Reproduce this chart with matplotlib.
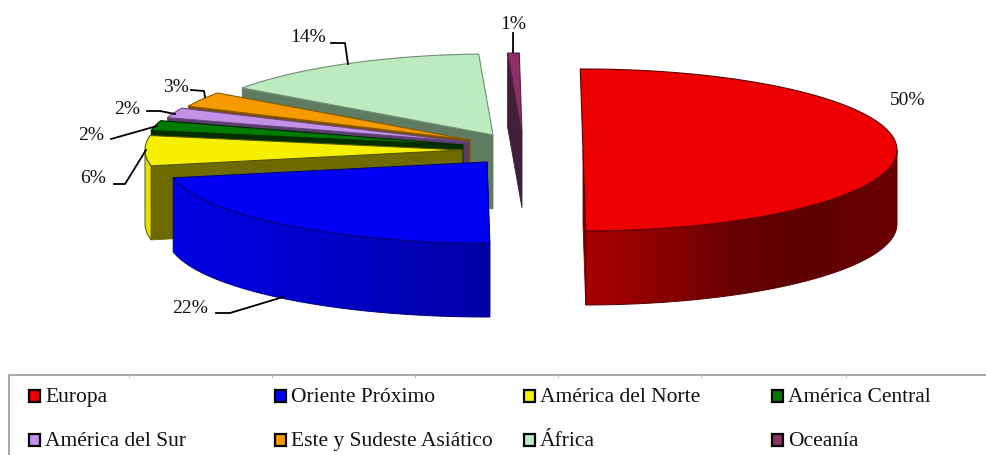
import numpy as np
import matplotlib
matplotlib.use('Agg')
import matplotlib.pyplot as plt
from matplotlib.patches import Polygon, Rectangle
from matplotlib.colors import LinearSegmentedColormap

# data
regiones = ['Europa', 'Oriente Próximo', 'América del Norte', 'América Central',
            'América del Sur', 'Este y Sudeste Asiático', 'África', 'Oceanía']
valores = [50, 22, 6, 2, 2, 3, 14.4, 0.6]

# style of each slice
top_col = ['#ee0000', '#0000f5', '#f6f000', '#007a00', '#c490e8', '#f59a00', '#bcebc0', '#8e3068']
side_col = ['#7a0000', '#00009a', '#6e6a00', '#003000', '#5a3d70', '#7a4d00', '#5f7b62', '#3f1f3a']
edge_col = ['#5a0000', '#000080', '#55550a', '#002a00', '#6a4a80', '#8a5a00', '#6f8f72', '#5a2045']
# outer wall colours, left to right
arc_cols = [['#a80000', '#8a0000', '#640000', '#600000', '#6a0000'],
            ['#0000e2', '#0000d8', '#0000c8', '#0000b4', '#0000a8'],
            ['#e6e000', '#e6e000'],
            ['#003000', '#003000'],
            ['#5a3d70', '#5a3d70'],
            ['#7a4d00', '#7a4d00'],
            ['#5f7b62', '#5f7b62'],
            ['#3f1f3a', '#3f1f3a']]

# apex of each exploded slice, in pixels, and radii
apex_x = [583, 487, 462, 463, 468, 470, 493, 522]
apex_y = [150, 162, 150, 145, 142, 140, 135, 134]
rad_x = [314, 320, 317, 317, 315, 310, 308, 310]
rad_y = 81
depth = 74
start = -0.5

# text and leader lines
lab_x = [908, 190, 93, 91, 127, 176, 308, 513]
lab_base = [105, 313, 183, 140, 114, 92, 42, 29]
leaders = [None,
           [(216, 313), (230, 313), (283, 297)],
           [(114, 184), (125, 184), (146, 150)],
           [(111, 139), (157, 126)],
           [(147, 111), (160, 111), (175, 114)],
           [(191, 90), (204, 91), (205, 97)],
           [(331, 43), (345, 43), (348, 64)],
           [(513, 33), (513, 52)]]
leg_x = [29, 275, 524, 772]
leg_y = [396, 440]

plt.rcParams['font.family'] = ['Liberation Serif', 'DejaVu Serif']

fig = plt.figure(figsize=(9.86, 4.55), dpi=100)
ax = fig.add_axes([0, 0, 1, 1])
ax.axis('off')


def arc(i, a, b, n=120):
    t = np.radians(np.linspace(a, b, n))
    return apex_x[i] + rad_x[i] * np.sin(t), apex_y[i] - rad_y * np.cos(t)


def draw_slice(i, a, b, z):
    # flat wall
    wall = b if i == 0 else a
    xw, yw = arc(i, wall, wall, 1)
    ax.add_patch(Polygon([(apex_x[i], apex_y[i]), (xw[0], yw[0]), (xw[0], yw[0] + depth),
                          (apex_x[i], apex_y[i] + depth)],
                         fc=side_col[i], ec=side_col[i], lw=0.6, zorder=z))
    # outer wall, only the front half of the circle shows
    lo, hi = max(a, 90), min(b, 270)
    if hi > lo:
        x, y = arc(i, lo, hi)
        outline = np.r_[np.c_[x, y], np.c_[x[::-1], y[::-1] + depth]]
        poly = Polygon(outline, fc='none', ec=edge_col[i], lw=0.7, zorder=z + 0.2)
        ax.add_patch(poly)
        cmap = LinearSegmentedColormap.from_list('wall', arc_cols[i])
        im = ax.imshow(np.linspace(0, 1, 300)[None, :], cmap=cmap, aspect='auto',
                       extent=(x.min(), x.max(), y.max() + depth, y.min()),
                       interpolation='bilinear', zorder=z + 0.1)
        im.set_clip_path(poly)
    # top face
    x, y = arc(i, a, b)
    ax.add_patch(Polygon(np.r_[[(apex_x[i], apex_y[i])], np.c_[x, y]],
                         fc=top_col[i], ec=edge_col[i], lw=0.8, joinstyle='round', zorder=z + 0.3))


angles = start + np.r_[0, np.cumsum(valores)] * 3.6
# back to front
for z, i in enumerate([7, 6, 5, 4, 3, 2, 1, 0]):
    draw_slice(i, angles[i], angles[i + 1], z + 1)

for i, v in enumerate(valores):
    ax.text(lab_x[i], lab_base[i], f'{v:.0f}%', fontsize=14, ha='center', va='baseline',
            color='#111111', zorder=20)
    if leaders[i]:
        xs, ys = zip(*leaders[i])
        ax.plot(xs, ys, color='black', lw=1.3, zorder=20)

# legend box, open on the right
ax.plot([986, 9, 9], [375, 375, 455], color='#999999', lw=1.2, clip_on=False)
for x in [129, 272, 415, 558, 701, 846]:
    ax.plot([x, x], [375, 377], color='#bbbbbb', lw=0.7)

for i, name in enumerate(regiones):
    px = leg_x[i % 4]
    py = leg_y[i // 4]
    ax.add_patch(Rectangle((px, py - 6), 11, 12, fc=top_col[i], ec='black', lw=1.6))
    ax.text(px + 16, py + 6, name, fontsize=15.5, ha='left', va='baseline', color='#111111')

ax.set_xlim(0, 986)
ax.set_ylim(455, 0)

plt.savefig('out.png', dpi=100)
